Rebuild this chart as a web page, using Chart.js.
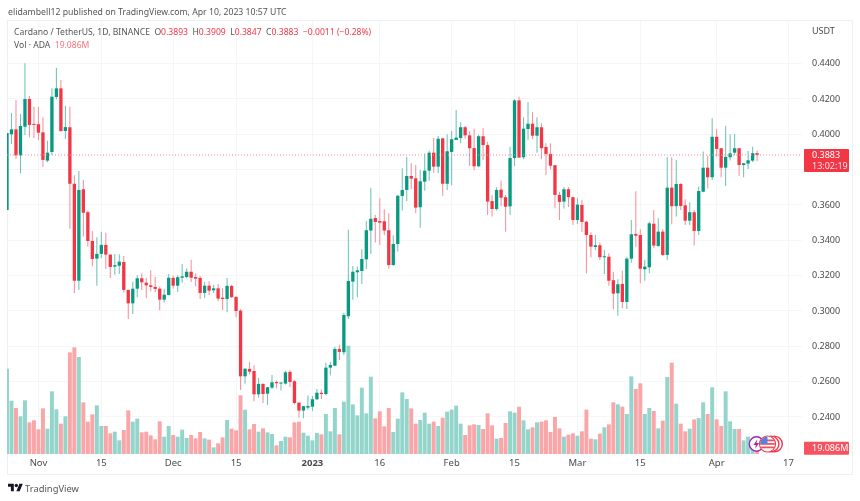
<!DOCTYPE html>
<html>
<head>
<meta charset="utf-8">
<title>ADA / USDT</title>
<script src="https://cdn.jsdelivr.net/npm/chart.js@4/dist/chart.umd.min.js"></script>
<style>
html,body{margin:0;padding:0;background:#fff;}
body{width:860px;height:501px;position:relative;overflow:hidden;font-family:"Noto Sans",sans-serif;color:#4a4a4a;}
#frame{position:absolute;left:7px;top:20px;width:844px;height:453px;border:1px solid #eeeff2;}
#wrap{position:absolute;left:0;top:0;width:860px;height:501px;}
.t{position:absolute;white-space:nowrap;}
#pub{left:8px;top:6px;font-size:8.7px;color:#555;}
#leg1{left:14px;top:26px;font-size:8.6px;color:#555;}
#leg2{left:14px;top:39px;font-size:8.6px;color:#555;}
.r{color:#f23645;}
.rl{color:#f7727d;}
#usdt{left:812px;top:24px;font-size:9px;color:#4a4a4a;}
#brand{left:25px;top:482px;font-size:9.4px;color:#555;}
#logo{position:absolute;left:8px;top:482px;}
#events{position:absolute;left:745px;top:433px;}
</style>
</head>
<body>
<div id="frame"></div>
<div id="wrap"><canvas id="chart" width="860" height="501"></canvas></div>
<div class="t" id="pub">elidambell12 published on TradingView.com, Apr 10, 2023 10:57 UTC</div>
<div class="t" id="leg1">Cardano / TetherUS, 1D, BINANCE &nbsp;O<span class="r">0.3893</span> &nbsp;H<span class="r">0.3909</span> &nbsp;L<span class="r">0.3847</span> &nbsp;C<span class="r">0.3883</span> &nbsp;<span class="r">−0.0011 (−0.28%)</span></div>
<div class="t" id="leg2">Vol · ADA &nbsp;<span class="rl">19.086M</span></div>
<div class="t" id="usdt">USDT</div>
<svg id="logo" width="15" height="12" viewBox="0 0 36 28"><path fill="#131722" d="M14 22H7V11H0V4h14v18zM28 22h-8l7.5-18h8L28 22z"/><circle fill="#131722" cx="20" cy="8" r="4"/></svg>
<div class="t" id="brand">TradingView</div>
<svg id="events" width="42" height="22" viewBox="0 0 42 22">
  <defs><clipPath id="flagclip"><circle cx="22.5" cy="11" r="7.4"/></clipPath></defs>
  <circle cx="11.5" cy="11" r="7.2" fill="#fff" stroke="#9c27b0" stroke-width="1.4"/>
  <path d="M12.5 6l-4 6h2.5l-1 4 4-6h-2.5z" fill="#9c27b0"/>
  <circle cx="29.4" cy="11" r="7.9" fill="#fff" stroke="#f23645" stroke-width="1.4"/>
  <circle cx="26" cy="11" r="7.9" fill="#fff" stroke="#f23645" stroke-width="1.4"/>
  <circle cx="22.5" cy="11" r="7.9" fill="#fff" stroke="#f23645" stroke-width="1.4"/>
  <g clip-path="url(#flagclip)">
    <rect x="15" y="3" width="15" height="16" fill="#fff"/>
    <rect x="15" y="6.5" width="15" height="1.8" fill="#ef5361"/>
    <rect x="15" y="10" width="15" height="1.8" fill="#ef5361"/>
    <rect x="15" y="13.5" width="15" height="1.8" fill="#ef5361"/>
    <rect x="15" y="3" width="7.5" height="8" fill="#5b7fd6"/>
  </g>
</svg>
<script>
const dates = [
"Oct 25","Oct 26","Oct 27","Oct 28","Oct 29","Oct 30","Oct 31",
"Nov 1","Nov 2","Nov 3","Nov 4","Nov 5","Nov 6","Nov 7","Nov 8","Nov 9","Nov 10","Nov 11","Nov 12","Nov 13","Nov 14","Nov 15","Nov 16","Nov 17","Nov 18","Nov 19","Nov 20","Nov 21","Nov 22","Nov 23","Nov 24","Nov 25","Nov 26","Nov 27","Nov 28","Nov 29","Nov 30",
"Dec 1","Dec 2","Dec 3","Dec 4","Dec 5","Dec 6","Dec 7","Dec 8","Dec 9","Dec 10","Dec 11","Dec 12","Dec 13","Dec 14","Dec 15","Dec 16","Dec 17","Dec 18","Dec 19","Dec 20","Dec 21","Dec 22","Dec 23","Dec 24","Dec 25","Dec 26","Dec 27","Dec 28","Dec 29","Dec 30","Dec 31",
"Jan 1","Jan 2","Jan 3","Jan 4","Jan 5","Jan 6","Jan 7","Jan 8","Jan 9","Jan 10","Jan 11","Jan 12","Jan 13","Jan 14","Jan 15","Jan 16","Jan 17","Jan 18","Jan 19","Jan 20","Jan 21","Jan 22","Jan 23","Jan 24","Jan 25","Jan 26","Jan 27","Jan 28","Jan 29","Jan 30","Jan 31",
"Feb 1","Feb 2","Feb 3","Feb 4","Feb 5","Feb 6","Feb 7","Feb 8","Feb 9","Feb 10","Feb 11","Feb 12","Feb 13","Feb 14","Feb 15","Feb 16","Feb 17","Feb 18","Feb 19","Feb 20","Feb 21","Feb 22","Feb 23","Feb 24","Feb 25","Feb 26","Feb 27","Feb 28",
"Mar 1","Mar 2","Mar 3","Mar 4","Mar 5","Mar 6","Mar 7","Mar 8","Mar 9","Mar 10","Mar 11","Mar 12","Mar 13","Mar 14","Mar 15","Mar 16","Mar 17","Mar 18","Mar 19","Mar 20","Mar 21","Mar 22","Mar 23","Mar 24","Mar 25","Mar 26","Mar 27","Mar 28","Mar 29","Mar 30","Mar 31",
"Apr 1","Apr 2","Apr 3","Apr 4","Apr 5","Apr 6","Apr 7","Apr 8","Apr 9","Apr 10","Apr 11","Apr 12","Apr 13","Apr 14","Apr 15","Apr 16","Apr 17","Apr 18","Apr 19","Apr 20"];

const opens = [
.3572,.4000,.4028,.3881,.4043,.4200,.4057,
.4057,.4011,.3851,.3900,.4211,.4260,.4019,.4040,.3720,.3171,
.3689,.3559,.3396,.3296,.3323,.3374,.3319,.3251,.3256,.3277,
.3119,.3043,.3126,.3185,.3160,.3145,.3136,.3126,.3064,.3090,
.3187,.3143,.3188,.3192,.3222,.3192,.3187,.3102,.3143,.3117,
.3128,.3075,.3068,.3142,.3079,.3002,.2630,.2672,.2660,.2528,
.2587,.2532,.2566,.2598,.2589,.2589,.2655,.2602,.2481,.2436,
.2453,.2458,.2500,.2537,.2530,.2679,.2690,.2785,.2766,.2970,
.3166,.3219,.3226,.3292,.3455,.3526,.3509,.3508,.3457,.3260,
.3379,.3651,.3685,.3764,.3751,.3587,.3732,.3794,.3896,.3817,
.3977,.3720,.3900,.3968,.3979,.4040,.3994,.3922,.3819,.3989,
.3939,.3622,.3577,.3687,.3644,.3592,.3866,.4192,.3870,.4030,
.4060,.3992,.4040,.3928,.3889,.3825,.3657,.3619,.3689,.3644,
.3515,.3600,.3505,.3430,.3362,.3372,.3304,.3307,.3174,.3100,
.3153,.3051,.3296,.3436,.3430,.3236,.3247,.3494,.3368,.3449,
.3317,.3698,.3593,.3719,.3598,.3511,.3559,.3453,.3675,.3811,
.3757,.3986,.3921,.3811,.3870,.3896,.3921,.3826,.3834,.3851,
.3893];

const highs = [
.4007,.4121,.4194,.4115,.4402,.4217,.4156,
.4155,.4096,.3964,.4260,.4377,.4307,.4161,.4156,.3768,.3792,
.3741,.3568,.3453,.3417,.3449,.3443,.3321,.3323,.3321,.3311,
.3121,.3166,.3202,.3213,.3188,.3230,.3194,.3138,.3126,.3209,
.3200,.3202,.3266,.3242,.3290,.3213,.3198,.3164,.3168,.3147,
.3153,.3128,.3188,.3149,.3085,.3010,.2676,.2713,.2693,.2621,
.2591,.2571,.2638,.2606,.2596,.2660,.2666,.2609,.2483,.2462,
.2521,.2519,.2558,.2555,.2707,.2713,.2798,.2808,.2990,.3460,
.3255,.3251,.3349,.3509,.3696,.3543,.3638,.3576,.3553,.3428,
.3657,.3808,.3873,.3836,.3826,.3798,.3892,.3907,.3981,.3990,
.3981,.4000,.4019,.4138,.4068,.4047,.4019,.4032,.3996,.4034,
.3958,.3657,.3700,.3737,.3657,.3930,.4200,.4213,.4096,.4183,
.4125,.4096,.4062,.3949,.3949,.3826,.3675,.3702,.3702,.3647,
.3641,.3628,.3511,.3445,.3430,.3387,.3345,.3327,.3222,.3179,
.3228,.3307,.3515,.3678,.3462,.3289,.3505,.3572,.3525,.3462,
.3870,.3870,.3855,.3723,.3632,.3615,.3572,.3704,.3902,.3879,
.4091,.4030,.3924,.4049,.4000,.4002,.3923,.3839,.3906,.3930,
.3909];

const lows = [
.3572,.3945,.3860,.3779,.3996,.3983,.3979,
.3968,.3817,.3842,.3883,.4198,.4015,.3974,.3466,.3102,.3119,
.3421,.3364,.3253,.3142,.3298,.3238,.3187,.3205,.3209,.3104,
.2955,.2983,.3077,.3119,.3074,.3111,.3106,.3004,.3047,.3089,
.3125,.3109,.3160,.3185,.3164,.3138,.3068,.3074,.3090,.3102,
.3055,.3006,.2993,.3074,.2964,.2553,.2588,.2642,.2489,.2509,
.2479,.2468,.2558,.2562,.2549,.2583,.2570,.2470,.2396,.2393,
.2440,.2434,.2496,.2502,.2521,.2636,.2689,.2723,.2751,.2955,
.3064,.3077,.3153,.3238,.3323,.3387,.3374,.3430,.3239,.3256,
.3336,.3568,.3622,.3689,.3553,.3471,.3681,.3737,.3783,.3779,
.3652,.3685,.3711,.3968,.3949,.3975,.3821,.3796,.3813,.3855,
.3543,.3534,.3568,.3594,.3449,.3543,.3821,.3868,.3859,.3968,
.3972,.3896,.3859,.3770,.3802,.3581,.3515,.3580,.3589,.3487,
.3492,.3447,.3213,.3304,.3345,.3289,.3209,.3142,.3010,.2973,
.3015,.3011,.3273,.3364,.3157,.3171,.3213,.3355,.3364,.3311,
.3289,.3491,.3534,.3572,.3487,.3487,.3370,.3430,.3672,.3694,
.3741,.3873,.3757,.3707,.3851,.3881,.3764,.3757,.3804,.3843,
.3847];

const closes = [
.4007,.4028,.3881,.4047,.4200,.4053,.4053,
.4009,.3855,.3896,.4213,.4260,.4019,.4041,.3720,.3171,.3685,
.3556,.3396,.3294,.3323,.3374,.3319,.3249,.3259,.3279,.3119,
.3043,.3126,.3185,.3162,.3145,.3136,.3125,.3064,.3092,.3188,
.3143,.3191,.3196,.3222,.3188,.3183,.3102,.3143,.3115,.3128,
.3070,.3068,.3142,.3078,.3000,.2630,.2673,.2656,.2528,.2587,
.2530,.2568,.2596,.2591,.2594,.2653,.2598,.2479,.2436,.2461,
.2462,.2500,.2537,.2530,.2679,.2694,.2785,.2768,.2977,.3170,
.3222,.3230,.3294,.3457,.3522,.3504,.3500,.3455,.3260,.3379,
.3652,.3685,.3764,.3749,.3585,.3734,.3794,.3896,.3817,.3975,
.3720,.3904,.3972,.3981,.4040,.3994,.3921,.3819,.3989,.3939,
.3619,.3577,.3685,.3641,.3590,.3866,.4192,.3868,.4032,.4060,
.3992,.4040,.3921,.3889,.3822,.3657,.3617,.3689,.3644,.3515,
.3602,.3504,.3430,.3364,.3372,.3304,.3307,.3171,.3098,.3151,
.3051,.3296,.3434,.3426,.3239,.3251,.3496,.3370,.3449,.3317,
.3698,.3593,.3719,.3594,.3511,.3559,.3453,.3679,.3811,.3757,
.3986,.3917,.3811,.3872,.3892,.3921,.3826,.3836,.3853,.3893,
.3883];

// millions of ADA
const volumes = [
256,160,138,113,161,95,101,
74,137,76,188,134,91,113,305,320,291,
155,97,119,146,84,84,62,67,41,72,
131,97,106,65,67,56,44,98,52,84,
57,52,73,48,57,47,66,47,43,20,
32,50,102,76,71,176,133,74,90,67,
77,65,60,26,39,52,50,95,97,64,
55,41,63,59,120,68,138,59,157,325,
149,116,199,122,232,107,128,83,138,66,
106,185,165,137,91,102,124,91,97,84,
109,127,133,145,91,57,86,89,87,75,
122,86,46,48,93,128,124,142,101,74,
80,95,97,101,66,111,77,52,58,62,
55,68,133,46,44,61,80,89,155,149,
142,120,233,195,212,120,138,129,77,100,
231,274,151,91,68,76,104,108,155,120,
200,104,84,188,98,75,75,41,52,35,
19.086];

const priceTicks = [.44,.42,.40,.38,.36,.34,.32,.30,.28,.26,.24];
const tickDates = ["Nov 1","Nov 15","Dec 1","Dec 15","Jan 1","Jan 16","Feb 1","Feb 15","Mar 1","Mar 15","Apr 1","Apr 17"];
const tickTexts = ["Nov","15","Dec","15","2023","16","Feb","15","Mar","15","Apr","17"];

const UP = "#089981", DOWN = "#f23645";
const WICK_UP = "#6fc6b6", WICK_DOWN = "#f8929b";
const VOL_UP = "#93d5cb", VOL_DOWN = "#faa6a9";
const FONT = '"Noto Sans",sans-serif';

const isUp = i => closes[i] >= opens[i];

const lastLabels = {
  id: "lastLabels",
  afterDatasetsDraw(c){
    const g = c.ctx, y = c.scales.y.getPixelForValue(closes[closes.length-1]);
    g.save();
    g.strokeStyle = "#f58a92";
    g.lineWidth = 1;
    g.setLineDash([1,2]);
    g.beginPath();
    g.moveTo(c.chartArea.left, y);
    g.lineTo(c.chartArea.right, y);
    g.stroke();
    g.restore();
  },
  afterDraw(c){
    const g = c.ctx, r = c.chartArea.right;
    const y = c.scales.y.getPixelForValue(closes[closes.length-1]);
    const vy = c.scales.v.getPixelForValue(volumes[volumes.length-1]);
    g.save();
    g.fillStyle = "#f23645";
    g.beginPath(); g.roundRect(r+2, y-6, 45, 23, 1); g.fill();
    g.fillStyle = "#f7525f";
    g.beginPath(); g.roundRect(r+2, vy-6, 45, 13, 1); g.fill();
    g.fillStyle = "#fff";
    g.textBaseline = "middle";
    g.font = "9px "+FONT;
    g.fillText(closes[closes.length-1].toFixed(4), r+10, y);
    g.fillStyle = "#fde3e5";
    g.fillText("13:02:19", r+10, y+11);
    g.fillStyle = "#fff";
    g.fillText("19.086M", r+10, vy+0.5);
    g.restore();
  }
};

new Chart(document.getElementById("chart"),{
  type:"bar",
  data:{
    labels:dates,
    datasets:[
      {label:"Body",order:1,yAxisID:"y",grouped:false,categoryPercentage:1,barPercentage:.74,minBarLength:1,
        data:opens.map((o,i)=>[o,closes[i]]),
        backgroundColor:c=>isUp(c.dataIndex)?UP:DOWN},
      {label:"Wick",order:2,yAxisID:"y",grouped:false,categoryPercentage:1,barPercentage:.24,
        data:lows.map((l,i)=>[l,highs[i]]),
        backgroundColor:c=>isUp(c.dataIndex)?WICK_UP:WICK_DOWN},
      {label:"Vol",order:3,yAxisID:"v",grouped:false,categoryPercentage:1,barPercentage:.88,
        data:volumes,
        backgroundColor:c=>isUp(c.dataIndex)?VOL_UP:VOL_DOWN}
    ]
  },
  options:{
    responsive:false,
    animation:false,
    layout:{padding:{left:7,top:21,right:8,bottom:27}},
    plugins:{legend:{display:false},tooltip:{enabled:false}},
    scales:{
      x:{
        offset:false,
        grid:{offset:false,color:"#f5f6f7",drawTicks:false},
        border:{display:false},
        afterBuildTicks:s=>{s.ticks=tickDates.map(d=>({value:dates.indexOf(d)}));},
        afterFit:s=>{s.height=20;},
        ticks:{
          autoSkip:false,maxRotation:0,padding:4,color:"#4a4a4a",
          font:c=>({family:FONT,size:9.5,weight:c.tick&&c.tick.label==="2023"?"bold":"normal"}),
          callback:(v,i)=>tickTexts[i]
        }
      },
      y:{
        position:"right",
        min:.21902,max:.46414,
        grid:{color:"#f5f6f7",drawTicks:false},
        border:{display:false},
        afterBuildTicks:s=>{s.ticks=priceTicks.map(v=>({value:v}));},
        afterFit:s=>{s.width=50;},
        ticks:{padding:10,color:"#4a4a4a",font:{family:FONT,size:9},callback:v=>v.toFixed(4)}
      },
      v:{display:false,min:0,max:1299}
    }
  },
  plugins:[lastLabels]
});
</script>
</body>
</html>
